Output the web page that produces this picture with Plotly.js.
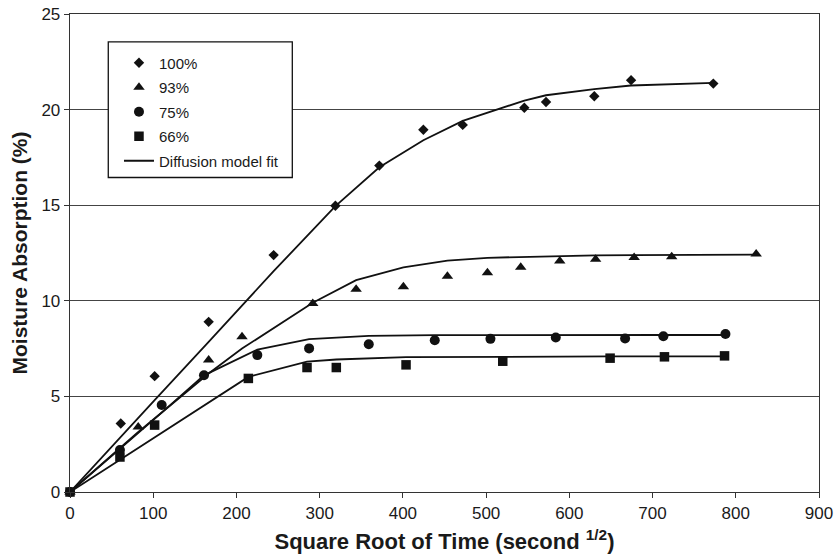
<!DOCTYPE html>
<html>
<head>
<meta charset="utf-8">
<script src="https://cdn.plot.ly/plotly-3.0.1.min.js"></script>
<style>html,body{margin:0;padding:0;background:#fff;}#chart{width:838px;height:558px;}</style>
</head>
<body>
<div id="chart"></div>
<script>
const x100 = [0, 61, 101.7, 166.6, 244.7, 318.9, 371.7, 424.6, 471.9, 545.9, 572, 630, 674.2, 773];
const y100 = [0, 3.58, 6.06, 8.90, 12.39, 14.97, 17.07, 18.95, 19.20, 20.10, 20.40, 20.70, 21.54, 21.36];
const x93 = [0, 82, 166.6, 206.7, 291.7, 343.8, 400.6, 453.5, 501.6, 541.6, 588.5, 631.6, 677.9, 723, 824.5];
const y93 = [0, 3.4, 6.9, 8.12, 9.86, 10.6, 10.74, 11.29, 11.47, 11.75, 12.08, 12.17, 12.27, 12.31, 12.45];
const x75 = [0, 60, 110.2, 161, 225.1, 287.3, 359, 438.3, 505.2, 583.7, 667, 713, 787.6];
const y75 = [0, 2.2, 4.55, 6.11, 7.16, 7.51, 7.73, 7.94, 8.01, 8.08, 8.03, 8.15, 8.26];
const x66 = [0, 60, 101.7, 214.3, 284.8, 320, 403.8, 520, 649, 714.3, 786.5];
const y66 = [0, 1.83, 3.5, 5.94, 6.51, 6.51, 6.65, 6.84, 7.0, 7.07, 7.12];

// Diffusion model fit curves
const fx100 = [0, 60, 101.7, 166.6, 244.7, 318.9, 371.7, 424.6, 471.9, 545.9, 572, 630, 674, 773];
const fy100 = [0, 2.85, 4.8, 7.85, 11.55, 14.95, 16.98, 18.4, 19.41, 20.47, 20.75, 21.07, 21.26, 21.40];
const fx93 = [0, 81, 166.6, 206.7, 291.7, 343.8, 400.6, 453.5, 501.6, 541.6, 588.5, 631.6, 677.9, 723, 824.5];
const fy93 = [0, 3.1, 6.2, 7.5, 9.9, 11.08, 11.75, 12.1, 12.25, 12.3, 12.35, 12.38, 12.39, 12.4, 12.41];
const fx75 = [0, 60, 110.2, 161, 225.1, 287.3, 359, 438.3, 505.2, 583.7, 667, 713, 787.6];
const fy75 = [0, 2.25, 4.15, 6.1, 7.45, 8.0, 8.17, 8.2, 8.21, 8.21, 8.21, 8.21, 8.21];
const fx66 = [0, 60, 101.7, 214.3, 284.8, 320, 403.8, 520, 649, 714.3, 786.5];
const fy66 = [0, 1.69, 2.86, 6.02, 6.82, 6.93, 7.05, 7.08, 7.09, 7.09, 7.09];

const seriesNames = ['100%', '93%', '75%', '66%'];
const fitName = 'Diffusion model fit';
const xTicks = [0, 100, 200, 300, 400, 500, 600, 700, 800, 900];
const yTicks = [0, 5, 10, 15, 20, 25];

const ink = '#111111';
function pts(x, y, name, symbol, size) {
  return {x: x, y: y, name: name, legendgroup: name, type: 'scatter', mode: 'markers', cliponaxis: false,
    marker: {symbol: symbol, size: size, color: ink, line: {width: 0}}};
}
function fit(x, y, show) {
  return {x: x, y: y, name: fitName, type: 'scatter', mode: 'lines', legendgroup: 'fit',
    showlegend: show, cliponaxis: false, line: {color: ink, width: 1.8}};
}

const data = [
  fit(fx100, fy100, false), fit(fx93, fy93, false), fit(fx75, fy75, false), fit(fx66, fy66, false),
  pts(x100, y100, seriesNames[0], 'diamond', 8),
  pts(x93, y93, seriesNames[1], 'triangle-up', 10),
  pts(x75, y75, seriesNames[2], 'circle', 10),
  pts(x66, y66, seriesNames[3], 'square', 9.5),
  fit([null], [null], true)
];

const font = 'Liberation Sans, Arial, Helvetica, sans-serif';
const layout = {
  width: 838, height: 558,
  margin: {l: 70, r: 19, t: 14, b: 66},
  paper_bgcolor: '#fff', plot_bgcolor: '#fff',
  font: {family: font, color: '#1a1a1a'},
  showlegend: true,
  legend: {x: 0.0654, y: 0.932, xanchor: 'left', yanchor: 'top', bgcolor: 'rgba(0,0,0,0)',
    borderwidth: 0, font: {size: 15, family: font, color: '#1a1a1a'}, traceorder: 'grouped', tracegroupgap: 2},
  shapes: [{type: 'rect', xref: 'paper', yref: 'paper', x0: 0.0511, x1: 0.2968, y0: 0.658, y1: 0.9418,
    line: {color: '#111', width: 1.3}, fillcolor: '#fff', layer: 'above'}],
  xaxis: {range: [0, 900], tickvals: xTicks, ticktext: xTicks.map(String), ticks: 'outside', ticklen: 5,
    tickcolor: '#333', showline: true, linecolor: '#333', linewidth: 1.3, mirror: true, showgrid: false,
    zeroline: false, tickfont: {size: 17, family: font, color: '#1a1a1a'},
    title: {text: 'Square Root of Time (second <sup>1/2</sup>)', font: {size: 22, family: font, color: '#1a1a1a', weight: 'bold'}, standoff: 12}},
  yaxis: {range: [0, 25], tickvals: yTicks, ticktext: yTicks.map(String), ticks: 'outside', ticklen: 5,
    tickcolor: '#333', showline: true, linecolor: '#333', linewidth: 1.3, mirror: true, showgrid: true,
    gridcolor: '#444', gridwidth: 1, zeroline: false, tickfont: {size: 17, family: font, color: '#1a1a1a'},
    title: {text: 'Moisture Absorption (%)', font: {size: 21, family: font, color: '#1a1a1a', weight: 'bold'}, standoff: 8}}
};

Plotly.newPlot('chart', data, layout, {staticPlot: true, displayModeBar: false});
</script>
</body>
</html>
